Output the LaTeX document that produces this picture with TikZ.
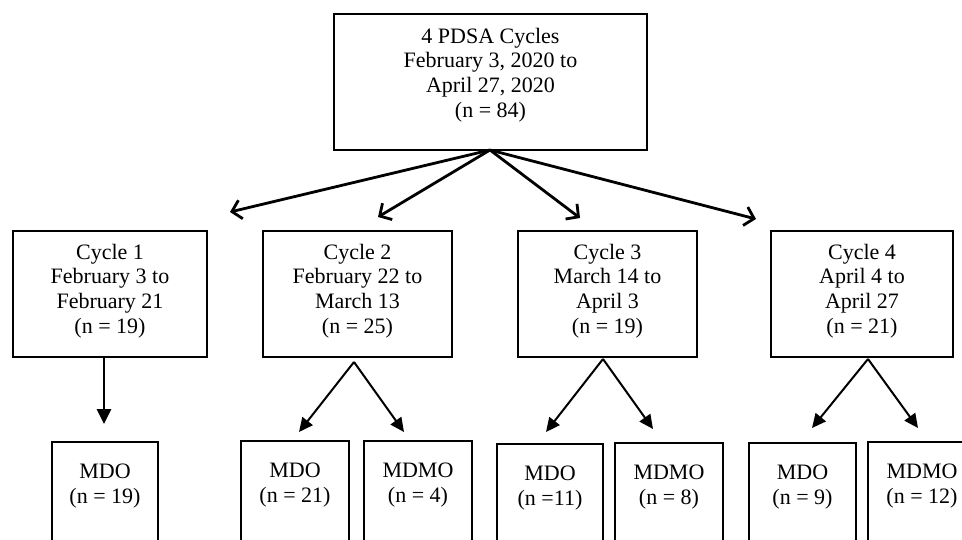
\documentclass[tikz,border=0pt]{standalone}
\usepackage{fontspec}
\setmainfont{Liberation Serif}
\usetikzlibrary{arrows.meta}
\begin{document}
\begin{tikzpicture}[x=1pt,y=-1pt,
  box/.style={draw, line width=1.7pt, inner sep=0pt},
  txt/.style={align=center, font=\fontsize{22}{24.8}\selectfont, inner sep=0pt},
  toparrow/.style={line width=2.8pt, -{Straight Barb[length=9pt,width=19pt,line width=2.8pt]}},
  subarrow/.style={line width=2pt, -{Triangle[length=14pt,width=13pt]}},
  thickarrow/.style={line width=2.8pt, -{Triangle[length=15pt,width=14pt]}}]
\clip (0,0) rectangle (962,539);
\useasboundingbox (0,0) rectangle (962,539);
\fill[white] (0,0) rectangle (962,539);

% top box
\node[box, minimum width=313pt, minimum height=136pt] (top) at (490.5,82) {};
\node[txt] (toptxt) at (490.5,75) {4 PDSA Cycles\\February 3, 2020 to\\April 27, 2020\\(n = 84)};

% cycle boxes
\node[box, minimum width=194pt, minimum height=126pt] (c1) at (110,294) {};
\node[box, minimum width=189pt, minimum height=126pt] (c2) at (357.5,294) {};
\node[box, minimum width=179pt, minimum height=126pt] (c3) at (607.5,294) {};
\node[box, minimum width=182pt, minimum height=126pt] (c4) at (862,294) {};
\node[txt] (c1t) at (110,291) {Cycle 1\\February 3 to\\February 21\\(n = 19)};
\node[txt] (c2t) at (357.5,291) {Cycle 2\\February 22 to\\March 13\\(n = 25)};
\node[txt] (c3t) at (607.5,291) {Cycle 3\\March 14 to\\April 3\\(n = 19)};
\node[txt] (c4t) at (862,291) {Cycle 4\\April 4 to\\April 27\\(n = 21)};

% bottom boxes (cut by the lower edge)
\node[box, minimum width=106pt, minimum height=200pt, anchor=north] (m1) at (105,441) {};
\node[box, minimum width=108pt, minimum height=200pt, anchor=north] (m2) at (295,440) {};
\node[box, minimum width=108pt, minimum height=200pt, anchor=north] (mm2) at (418,440) {};
\node[box, minimum width=106pt, minimum height=200pt, anchor=north] (m3) at (550,443) {};
\node[box, minimum width=108pt, minimum height=200pt, anchor=north] (mm3) at (669,442) {};
\node[box, minimum width=107pt, minimum height=200pt, anchor=north] (m4) at (802.5,442) {};
\node[box, minimum width=110pt, minimum height=200pt, anchor=north] (mm4) at (923,441) {};
\node[txt] (m1t) at (105,486) {MDO\\(n = 19)};
\node[txt] (m2t) at (295,485) {MDO\\(n = 21)};
\node[txt] (mm2t) at (418,485) {MDMO\\(n = 4)};
\node[txt] (m3t) at (550,488) {MDO\\(n =11)};
\node[txt] (mm3t) at (669,487) {MDMO\\(n = 8)};
\node[txt] (m4t) at (802.5,487) {MDO\\(n = 9)};
\node[txt] (mm4t) at (922,486) {MDMO\\(n = 12)};

% top arrows
\coordinate (o) at (490,150);
\coordinate (a1) at (230,212);
\coordinate (a2) at (378,217);
\coordinate (a3) at (580,218);
\coordinate (a4) at (756,219);
\draw[toparrow] (o) -- (a1);
\draw[toparrow] (o) -- (a2);
\draw[toparrow] (o) -- (a3);
\draw[toparrow] (o) -- (a4);

% lower arrows
\coordinate (p1) at (104,357);
\coordinate (q1) at (104,424);
\draw[thickarrow] (p1) -- (q1);

\coordinate (p2) at (354,362);
\coordinate (q2a) at (299,432);
\coordinate (q2b) at (404,432);
\draw[subarrow] (p2) -- (q2a);
\draw[subarrow] (p2) -- (q2b);

\coordinate (p3) at (603,359);
\coordinate (q3a) at (546,432);
\coordinate (q3b) at (653,429);
\draw[subarrow] (p3) -- (q3a);
\draw[subarrow] (p3) -- (q3b);

\coordinate (p4) at (868,359);
\coordinate (q4a) at (812,428);
\coordinate (q4b) at (918,428);
\draw[subarrow] (p4) -- (q4a);
\draw[subarrow] (p4) -- (q4b);
\end{tikzpicture}
\end{document}
